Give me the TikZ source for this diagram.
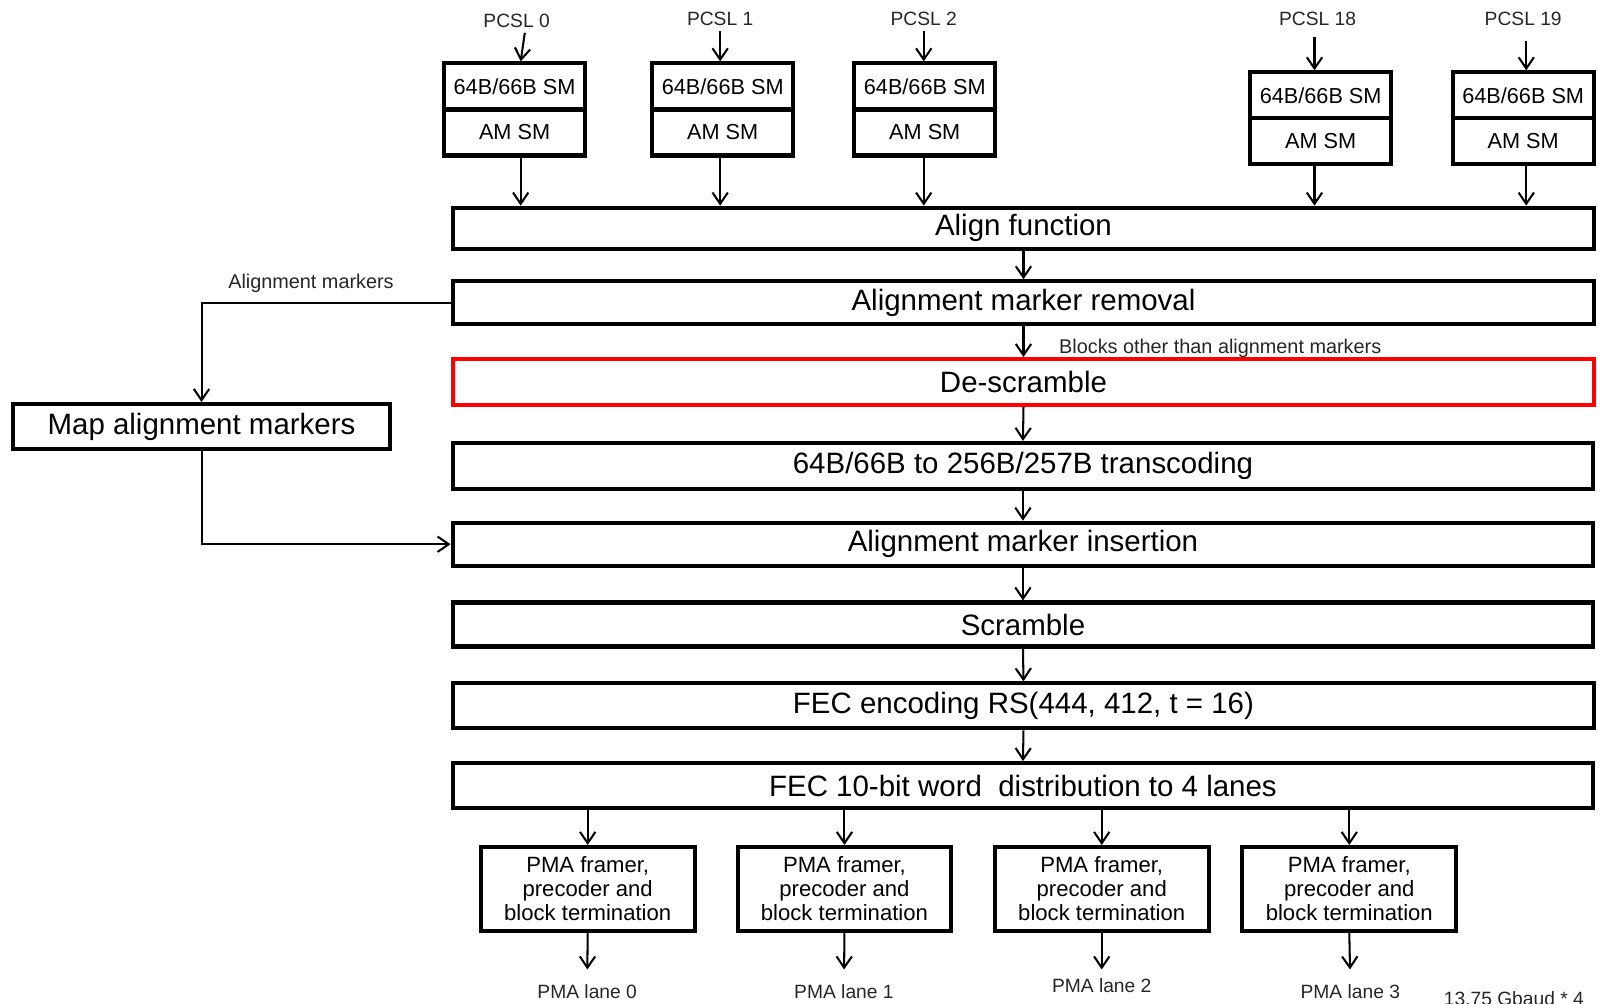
\documentclass[tikz,border=0pt]{standalone}
\usepackage{fontspec}
\setmainfont{Liberation Sans}
\usetikzlibrary{arrows.meta}
\begin{document}
\begin{tikzpicture}[x=0.5pt,y=-0.5pt,
  arr/.style={line width=1pt,-{Straight Barb[length=5.5pt,width=7.5pt,line width=1pt]}},
  bigbox/.style={draw,line width=2pt,minimum width=557.5pt,inner sep=0pt,font=\fontsize{14.4}{16}\selectfont},
  smbox/.style={draw,line width=2pt,minimum width=69pt,minimum height=22.5pt,inner sep=0pt,font=\fontsize{10.6}{12}\selectfont},
  pmabox/.style={draw,line width=2pt,minimum width=104.5pt,minimum height=41pt,inner sep=0pt,align=center,font=\fontsize{10.8}{11.8}\selectfont},
  lbl/.style={inner sep=0pt,text=black!85,font=\fontsize{9.4}{11}\selectfont},
  note/.style={inner sep=0pt,text=black!85,font=\fontsize{9.7}{11}\selectfont}]
\useasboundingbox (0,0) rectangle (1568,981);

% lane state machines
\node[smbox] (p0a) at (503,84.5) {64B/66B SM};
\node[smbox] (p0b) at (503,129.5) {AM SM};
\node[smbox] (p1a) at (706.5,84.5) {64B/66B SM};
\node[smbox] (p1b) at (706.5,129.5) {AM SM};
\node[smbox] (p2a) at (904,84.5) {64B/66B SM};
\node[smbox] (p2b) at (904,129.5) {AM SM};
\node[smbox] (p18a) at (1291,93.25) {64B/66B SM};
\node[smbox] (p18b) at (1291,137.75) {AM SM};
\node[smbox] (p19a) at (1489,93.25) {64B/66B SM};
\node[smbox] (p19b) at (1489,137.75) {AM SM};

\node[lbl] (l0) at (505,20) {PCSL 0};
\node[lbl] (l1) at (704,18) {PCSL 1};
\node[lbl] (l2) at (903,18) {PCSL 2};
\node[lbl] (l18) at (1288,18) {PCSL 18};
\node[lbl] (l19) at (1489,18) {PCSL 19};

% main pipeline
\node[bigbox,minimum height=20pt] (align) at (1000.5,223) {Align function};
\node[bigbox,minimum height=21pt] (rem) at (1000.5,296) {Alignment marker removal};
\node[bigbox,minimum height=22.5pt,draw=red] (desc) at (1000.5,373.5) {De-scramble};
\node[bigbox,minimum height=22.5pt] (trans) at (1000,455.5) {64B/66B to 256B/257B transcoding};
\node[bigbox,minimum height=21pt] (ins) at (1000,532) {Alignment marker insertion};
\node[bigbox,minimum height=21.5pt] (scr) at (1000,610.5) {Scramble};
\node[bigbox,minimum height=22pt] (fec) at (1000.5,690) {FEC encoding RS(444, 412, t = 16)};
\node[bigbox,minimum height=22pt] (dist) at (1000,768) {FEC 10-bit word\ \ distribution to 4 lanes};

\node[draw,line width=2pt,minimum width=184pt,minimum height=22pt,inner sep=0pt,font=\fontsize{14.4}{16}\selectfont] (map) at (197,417) {Map alignment markers};

% PMA lanes
\node[pmabox] (pma0) at (574.5,869) {PMA framer,\\precoder and\\block termination};
\node[pmabox] (pma1) at (825.5,869) {PMA framer,\\precoder and\\block termination};
\node[pmabox] (pma2) at (1077,869) {PMA framer,\\precoder and\\block termination};
\node[pmabox] (pma3) at (1319,869) {PMA framer,\\precoder and\\block termination};

\node[lbl] (o0) at (574,969) {PMA lane 0};
\node[lbl] (o1) at (825,969) {PMA lane 1};
\node[lbl] (o2) at (1077,963) {PMA lane 2};
\node[lbl] (o3) at (1320,969) {PMA lane 3};
\node[lbl,anchor=west] (rate) at (1411,976) {13.75 Gbaud * 4};

% side labels
\node[note] (amlbl) at (304,277) {Alignment markers};
\node[note,anchor=west] (blk) at (1035,341) {Blocks other than alignment markers};

% lane inputs
\draw[arr] ([xshift=4pt,yshift=-2.5pt]l0.south) -- ([xshift=3pt]p0a.north);
\draw[arr] ([yshift=-2.5pt]l1.south) -- (p1a.north -| l1.south);
\draw[arr] ([yshift=-2.5pt]l2.south) -- (p2a.north -| l2.south);
\draw[arr] ([xshift=-1.5pt,yshift=-5.5pt]l18.south) -- ([xshift=-3pt]p18a.north);
\draw[arr] ([xshift=1.5pt,yshift=-7.5pt]l19.south) -- ([xshift=1.5pt]p19a.north);

% lanes into align function
\draw[arr] ([xshift=3pt]p0b.south) -- ([xshift=3pt]p0b.south |- align.north);
\draw[arr] ([xshift=-1.25pt]p1b.south) -- ([xshift=-1.25pt]p1b.south |- align.north);
\draw[arr] ([xshift=-0.5pt]p2b.south) -- ([xshift=-0.5pt]p2b.south |- align.north);
\draw[arr] ([xshift=-3pt]p18b.south) -- ([xshift=-3pt]p18b.south |- align.north);
\draw[arr] ([xshift=1.5pt]p19b.south) -- ([xshift=1.5pt]p19b.south |- align.north);

% pipeline steps
\draw[arr] (align.south) -- (rem.north);
\draw[arr] (rem.south) -- (desc.north);
\draw[arr] (desc.south) -- (trans.north);
\draw[arr] (trans.south) -- (ins.north);
\draw[arr] (ins.south) -- (scr.north);
\draw[arr] (scr.south) -- (fec.north);
\draw[arr] (fec.south) -- (dist.north);

% alignment marker path
\draw[arr] (rem.west) -| (map.north);
\draw[arr] (map.south) |- (ins.west);

% distribution to PMA lanes
\draw[arr] (dist.south -| pma0.north) -- (pma0.north);
\draw[arr] (dist.south -| pma1.north) -- (pma1.north);
\draw[arr] (dist.south -| pma2.north) -- (pma2.north);
\draw[arr] (dist.south -| pma3.north) -- (pma3.north);

\draw[arr,shorten >=7pt] (pma0.south) -- (o0.north);
\draw[arr,shorten >=7pt] (pma1.south) -- (o1.north);
\draw[arr,shorten >=4pt] (pma2.south) -- (o2.north);
\draw[arr,shorten >=7pt] (pma3.south) -- (o3.north);
\end{tikzpicture}
\end{document}
